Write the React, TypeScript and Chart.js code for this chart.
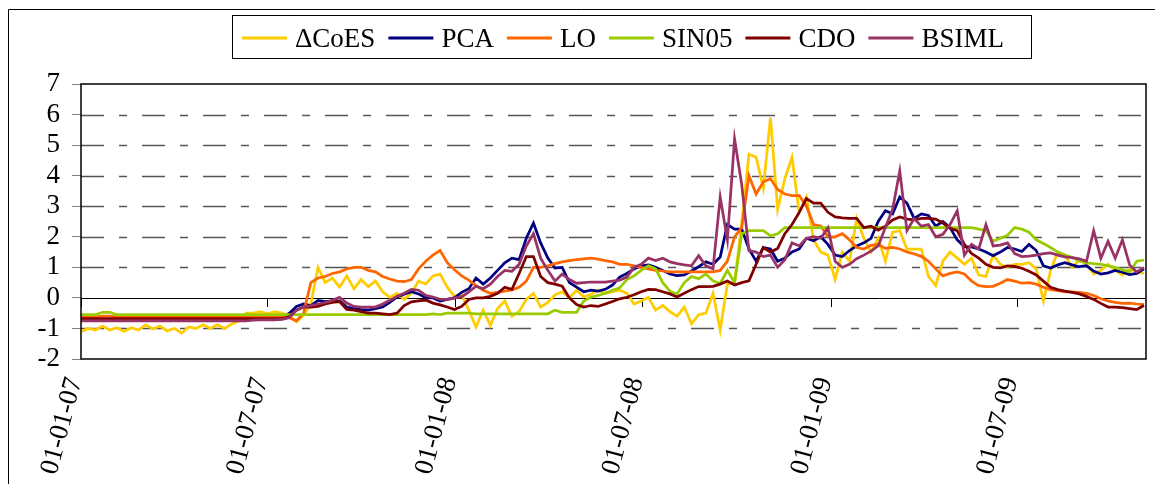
import React, { useEffect, useRef } from "react";
import { Chart, registerables } from "chart.js";

Chart.register(...registerables);

const SERIES_NAMES = ["ΔCoES", "PCA", "LO", "SIN05", "CDO", "BSIML"];
const SERIES_COLORS = ["#FFCC00", "#000080", "#FF6600", "#99CC00", "#800000", "#993366"];

// x axis: days since 01-01-2007, one observation per week
const STEP_DAYS = 7;
const X_MAX_DAY = 1038;
const TICK_DAYS = [0, 181, 365, 547, 731, 912];
const TICK_LABELS = ["01-01-07", "01-07-07", "01-01-08", "01-07-08", "01-01-09", "01-07-09"];
const Y_TICKS = [-2, -1, 0, 1, 2, 3, 4, 5, 6, 7];

const COES = [
  -1.1, -1.0, -1.05, -0.92, -1.05, -0.98, -1.1, -0.98, -1.05, -0.88,
  -1.02, -0.92, -1.08, -1.0, -1.15, -0.95, -1.0, -0.88, -1.0, -0.88,
  -1.0, -0.85, -0.75, -0.5, -0.5, -0.45, -0.52, -0.45, -0.5, -0.58,
  -0.78, -0.56, -0.2, 1.0, 0.5, 0.65, 0.35, 0.72, 0.3, 0.6,
  0.37, 0.55, 0.2, 0.02, 0.15, -0.05, 0.15, 0.55, 0.45, 0.72,
  0.78, 0.35, 0.05, 0.1, -0.4, -0.95, -0.4, -0.9, -0.35, -0.1,
  -0.6, -0.45, -0.05, 0.15, -0.3, -0.15, 0.1, 0.2, 0.0, 0.25,
  0.03, 0.12, 0.25, 0.15, 0.2, 0.25, 0.15, -0.2, -0.1, 0.02,
  -0.4, -0.25, -0.45, -0.6, -0.3, -0.85, -0.55, -0.5, 0.15, -1.05,
  0.45, 0.5, 2.45, 4.7, 4.6, 3.6, 5.9, 2.9, 3.9, 4.6,
  2.8, 3.3, 1.9, 1.5, 1.4, 0.6, 1.5, 1.2, 2.6, 1.95,
  1.5, 1.95, 1.2, 2.15, 2.2, 1.6, 1.6, 1.6, 0.7, 0.4,
  1.2, 1.5, 1.3, 1.1, 1.3, 0.75, 0.7, 1.4, 1.1, 1.0,
  1.1, 1.1, 1.15, 0.95, -0.1, 0.9, 1.5, 1.4, 1.0, 1.25,
  1.1, 0.78, 0.9, 1.1, 0.9, 0.75, 0.95, 0.85, 0.8,
];

const PCA = [
  -0.7, -0.7, -0.7, -0.7, -0.7, -0.7, -0.7, -0.7, -0.7, -0.7,
  -0.7, -0.7, -0.7, -0.7, -0.7, -0.7, -0.7, -0.7, -0.7, -0.7,
  -0.7, -0.7, -0.7, -0.7, -0.7, -0.7, -0.7, -0.7, -0.68, -0.5,
  -0.28, -0.2, -0.25, -0.08, -0.12, -0.1, -0.1, -0.3, -0.35, -0.38,
  -0.4, -0.35, -0.3, -0.15, 0.03, 0.12, 0.2, 0.13, 0.0, 0.0,
  -0.1, -0.05, 0.0, 0.18, 0.3, 0.65, 0.45, 0.65, 0.9, 1.15,
  1.3, 1.25, 1.95, 2.45, 1.8, 1.3, 0.98, 1.0, 0.5, 0.35,
  0.2, 0.25, 0.22, 0.28, 0.42, 0.68, 0.8, 0.95, 1.05, 1.08,
  1.0, 0.9, 0.78, 0.73, 0.75, 0.88, 1.02, 1.18, 1.1, 1.34,
  2.4, 2.25, 2.25, 1.6, 1.2, 1.65, 1.6, 1.2, 1.3, 1.5,
  1.6, 1.95, 1.87, 2.0, 1.75, 1.4, 1.35, 1.55, 1.7, 1.8,
  1.95, 2.5, 2.85, 2.75, 3.3, 3.1, 2.6, 2.75, 2.7, 2.35,
  2.5, 2.3, 1.9, 1.68, 1.67, 1.6, 1.5, 1.38, 1.5, 1.65,
  1.6, 1.52, 1.75, 1.55, 1.05, 0.98, 1.08, 1.15, 1.08, 1.02,
  1.05, 0.88, 0.78, 0.82, 0.9, 0.84, 0.76, 0.8, 0.95,
];

const LO = [
  -0.62, -0.62, -0.62, -0.6, -0.6, -0.62, -0.62, -0.62, -0.62, -0.62,
  -0.62, -0.62, -0.62, -0.62, -0.62, -0.62, -0.62, -0.62, -0.62, -0.62,
  -0.62, -0.62, -0.62, -0.62, -0.62, -0.62, -0.62, -0.62, -0.62, -0.65,
  -0.75, -0.5, 0.5, 0.65, 0.7, 0.8, 0.85, 0.95, 1.0, 1.0,
  0.9, 0.85, 0.7, 0.62, 0.55, 0.53, 0.6, 0.95, 1.2, 1.4,
  1.55, 1.15, 0.92, 0.72, 0.58, 0.4, 0.25, 0.15, 0.18, 0.22,
  0.26, 0.35, 0.55, 1.0, 1.0, 1.05, 1.12, 1.18, 1.22, 1.25,
  1.28, 1.3, 1.27, 1.22, 1.18, 1.1, 1.1, 1.05, 1.0, 0.95,
  0.9, 0.88, 0.85, 0.85, 0.85, 0.85, 0.85, 0.85, 0.85, 0.9,
  1.2, 2.0, 2.3, 4.0, 3.4, 3.8, 3.9, 3.55, 3.4, 3.35,
  3.35, 3.0, 2.4, 2.35, 2.0, 2.0, 2.1, 1.9, 1.65, 1.6,
  1.72, 1.75, 1.62, 1.65, 1.6, 1.5, 1.44, 1.36, 1.2, 0.95,
  0.72, 0.8, 0.85, 0.78, 0.55, 0.4, 0.37, 0.38, 0.48, 0.6,
  0.55, 0.48, 0.5, 0.45, 0.35, 0.27, 0.24, 0.2, 0.2, 0.18,
  0.15, 0.08, -0.03, -0.1, -0.15, -0.18, -0.17, -0.2, -0.22,
];

const SIN05 = [
  -0.55, -0.55, -0.55, -0.47, -0.47, -0.55, -0.55, -0.55, -0.55, -0.55,
  -0.55, -0.55, -0.55, -0.55, -0.55, -0.55, -0.55, -0.55, -0.55, -0.55,
  -0.55, -0.55, -0.55, -0.55, -0.55, -0.55, -0.55, -0.55, -0.55, -0.55,
  -0.55, -0.55, -0.55, -0.55, -0.55, -0.55, -0.55, -0.55, -0.55, -0.55,
  -0.55, -0.55, -0.55, -0.55, -0.55, -0.55, -0.55, -0.55, -0.55, -0.52,
  -0.55, -0.5, -0.5, -0.5, -0.5, -0.52, -0.52, -0.52, -0.52, -0.52,
  -0.52, -0.52, -0.52, -0.52, -0.52, -0.52, -0.4, -0.47, -0.47, -0.47,
  -0.1, 0.02, 0.08, 0.15, 0.25, 0.33, 0.6, 0.72, 0.9, 1.05,
  0.95, 0.5, 0.22, 0.13, 0.5, 0.7, 0.63, 0.78, 0.56, 0.47,
  0.9, 0.5, 2.1, 2.2, 2.2, 2.2, 2.03, 2.1, 2.3, 2.3,
  2.3, 2.3, 2.3, 2.3, 2.3, 2.3, 2.3, 2.3, 2.3, 2.3,
  2.3, 2.3, 2.3, 2.3, 2.3, 2.3, 2.3, 2.3, 2.3, 2.3,
  2.3, 2.3, 2.3, 2.3, 2.3, 2.25, 2.2, 1.85, 1.95, 2.05,
  2.3, 2.25, 2.15, 1.9, 1.78, 1.65, 1.5, 1.4, 1.33, 1.2,
  1.15, 1.12, 1.1, 1.05, 1.0, 0.92, 0.85, 1.2, 1.24,
];

const CDO = [
  -0.68, -0.68, -0.68, -0.68, -0.68, -0.68, -0.68, -0.68, -0.68, -0.68,
  -0.68, -0.68, -0.68, -0.68, -0.68, -0.68, -0.68, -0.68, -0.68, -0.68,
  -0.68, -0.68, -0.68, -0.68, -0.68, -0.68, -0.68, -0.68, -0.68, -0.62,
  -0.4, -0.3, -0.3, -0.28, -0.2, -0.15, -0.12, -0.38, -0.4, -0.45,
  -0.5, -0.5, -0.52, -0.55, -0.5, -0.25, -0.13, -0.1, -0.07, -0.17,
  -0.23, -0.3, -0.38, -0.28, -0.05, 0.0, 0.0, 0.05, 0.15, 0.35,
  0.28, 0.8, 1.35, 1.35, 0.7, 0.5, 0.45, 0.38, 0.0, -0.22,
  -0.3, -0.25, -0.28, -0.2, -0.12, -0.03, 0.02, 0.1, 0.2, 0.28,
  0.27, 0.2, 0.13, 0.03, 0.15, 0.27, 0.37, 0.37, 0.38, 0.45,
  0.55, 0.42, 0.5, 0.56, 1.1, 1.65, 1.5, 1.62, 2.1, 2.4,
  2.8, 3.25, 3.1, 3.1, 2.8, 2.65, 2.62, 2.6, 2.6, 2.3,
  2.35, 2.22, 2.35, 2.55, 2.65, 2.58, 2.55, 2.6, 2.6, 2.58,
  2.45, 2.28, 2.2, 1.75, 1.45, 1.3, 1.1, 1.0, 0.98, 1.05,
  1.03, 0.97, 0.87, 0.75, 0.55, 0.35, 0.27, 0.22, 0.18, 0.13,
  0.05, -0.05, -0.18, -0.3, -0.3, -0.32, -0.35, -0.38, -0.25,
];

const BSIML = [
  -0.75, -0.75, -0.75, -0.75, -0.75, -0.75, -0.75, -0.75, -0.75, -0.75,
  -0.75, -0.75, -0.75, -0.75, -0.75, -0.75, -0.75, -0.75, -0.75, -0.75,
  -0.75, -0.75, -0.75, -0.75, -0.73, -0.72, -0.72, -0.72, -0.7, -0.65,
  -0.4, -0.3, -0.25, -0.2, -0.15, -0.08, 0.02, -0.17, -0.28, -0.3,
  -0.3, -0.3, -0.2, -0.08, 0.05, 0.15, 0.28, 0.25, 0.08, 0.03,
  -0.05, -0.05, 0.0, 0.03, 0.2, 0.38, 0.3, 0.45, 0.7, 0.9,
  0.87, 1.1, 1.7, 2.1, 1.3, 0.9, 0.55, 0.78, 0.6, 0.48,
  0.5, 0.52, 0.52, 0.52, 0.55, 0.58, 0.68, 1.0, 1.1, 1.3,
  1.22, 1.3, 1.18, 1.12, 1.08, 1.05, 1.38, 1.05, 0.95, 3.3,
  1.9, 5.2, 3.7, 1.55, 1.5, 1.35, 1.4, 1.0, 1.25, 1.8,
  1.7, 1.95, 2.0, 1.95, 2.3, 1.2, 1.0, 1.1, 1.28, 1.4,
  1.53, 1.7, 2.3, 2.9, 4.15, 2.2, 2.6, 2.35, 2.4, 2.0,
  2.08, 2.4, 2.85, 1.4, 1.75, 1.6, 2.4, 1.7, 1.73, 1.8,
  1.45, 1.35, 1.37, 1.4, 1.45, 1.47, 1.4, 1.34, 1.32, 1.28,
  1.2, 2.2, 1.3, 1.85, 1.3, 1.9, 1.08, 0.85, 1.0,
];

const SERIES_VALUES = [COES, PCA, LO, SIN05, CDO, BSIML];

const FONT_FAMILY = '"Liberation Serif", "Times New Roman", serif';
const FONT_SIZE = 27;

const decorPlugin = {
  id: "decor",
  beforeDatasetsDraw(chart: any) {
    const { ctx, chartArea: a, scales } = chart;
    const x = scales.x;
    const y = scales.y;
    ctx.save();
    for (const v of Y_TICKS) {
      if (v === Y_TICKS[0] || v === Y_TICKS[Y_TICKS.length - 1]) continue;
      const py = Math.round(y.getPixelForValue(v)) + 0.5;
      ctx.beginPath();
      if (v === 0) {
        ctx.setLineDash([]);
        ctx.strokeStyle = "#000";
        ctx.lineWidth = 1;
      } else {
        ctx.setLineDash([23, 15, 8, 15]);
        ctx.strokeStyle = "#555";
        ctx.lineWidth = 1.5;
      }
      ctx.moveTo(a.left, py);
      ctx.lineTo(a.right, py);
      ctx.stroke();
    }
    ctx.setLineDash([]);
    ctx.strokeStyle = "#000";
    ctx.lineWidth = 1;
    const zy = Math.round(y.getPixelForValue(0));
    for (const d of TICK_DAYS) {
      const px = Math.round(x.getPixelForValue(d)) + 0.5;
      ctx.beginPath();
      ctx.moveTo(px, zy);
      ctx.lineTo(px, zy + 9);
      ctx.stroke();
    }
    ctx.restore();
  },
  afterDatasetsDraw(chart: any) {
    const { ctx, chartArea: a } = chart;
    ctx.save();
    ctx.strokeStyle = "#000";
    ctx.lineWidth = 1.5;
    ctx.strokeRect(a.left, a.top, a.right - a.left, a.bottom - a.top);
    ctx.restore();
  },
  afterDraw(chart: any) {
    const { ctx } = chart;
    ctx.save();
    // outer frame (top and left)
    ctx.strokeStyle = "#000";
    ctx.lineWidth = 1;
    ctx.beginPath();
    ctx.moveTo(8.5, 484);
    ctx.lineTo(8.5, 9.5);
    ctx.lineTo(1155, 9.5);
    ctx.stroke();
    // legend
    ctx.font = `${FONT_SIZE}px ${FONT_FAMILY}`;
    ctx.textBaseline = "alphabetic";
    ctx.textAlign = "left";
    let lx = 242;
    const lineY = 38;
    for (let i = 0; i < SERIES_NAMES.length; i++) {
      ctx.strokeStyle = SERIES_COLORS[i];
      ctx.lineWidth = 3;
      ctx.beginPath();
      ctx.moveTo(lx, lineY);
      ctx.lineTo(lx + 45, lineY);
      ctx.stroke();
      lx += 53;
      ctx.fillStyle = "#000";
      ctx.fillText(SERIES_NAMES[i], lx, 47);
      lx += ctx.measureText(SERIES_NAMES[i]).width + 13;
    }
    ctx.strokeStyle = "#000";
    ctx.lineWidth = 1;
    ctx.strokeRect(232.5, 15.5, 799, 43);
    ctx.restore();
  },
};

export default function App() {
  const canvasRef = useRef<HTMLCanvasElement | null>(null);

  useEffect(() => {
    const canvas = canvasRef.current;
    if (!canvas) return;
    const datasets = SERIES_NAMES.map((name, i) => ({
      label: name,
      data: SERIES_VALUES[i].map((v, k) => ({ x: k * STEP_DAYS, y: v })),
      borderColor: SERIES_COLORS[i],
      backgroundColor: SERIES_COLORS[i],
      borderWidth: 2.75,
      pointRadius: 0,
      tension: 0,
      fill: false,
      order: SERIES_NAMES.length - i,
    }));
    const chart = new Chart(canvas, {
      type: "line",
      data: { datasets },
      plugins: [decorPlugin],
      options: {
        responsive: false,
        animation: false,
        devicePixelRatio: 1,
        layout: { padding: { left: 8, right: 9, top: 84, bottom: 0 } },
        plugins: { legend: { display: false }, tooltip: { enabled: false }, title: { display: false } },
        scales: {
          x: {
            type: "linear",
            min: 0,
            max: X_MAX_DAY,
            afterBuildTicks: (s: any) => {
              s.ticks = TICK_DAYS.map((v) => ({ value: v }));
            },
            afterFit: (s: any) => {
              s.height = 125;
            },
            grid: { display: false, drawTicks: false },
            border: { display: false },
            ticks: {
              autoSkip: false,
              minRotation: 75,
              maxRotation: 75,
              padding: 15,
              labelOffset: -6,
              color: "#000",
              font: { family: FONT_FAMILY, size: FONT_SIZE },
              callback: (_v: any, i: number) => TICK_LABELS[i],
            },
          },
          y: {
            type: "linear",
            min: -2,
            max: 7,
            afterBuildTicks: (s: any) => {
              s.ticks = Y_TICKS.map((v) => ({ value: v }));
            },
            afterFit: (s: any) => {
              s.width = 73;
            },
            grid: { drawOnChartArea: false, drawTicks: true, tickLength: 9, color: "#808080", lineWidth: 1 },
            border: { display: false },
            ticks: {
              autoSkip: false,
              padding: 12,
              color: "#000",
              font: { family: FONT_FAMILY, size: FONT_SIZE },
              callback: (v: any) => String(v),
            },
          },
        },
      },
    } as any);
    return () => chart.destroy();
  }, []);

  return (
    <div style={{ position: "absolute", left: 0, top: 0, width: 1155, height: 484, background: "#fff", overflow: "hidden" }}>
      <canvas ref={canvasRef} width={1155} height={484} style={{ display: "block" }} />
    </div>
  );
}
